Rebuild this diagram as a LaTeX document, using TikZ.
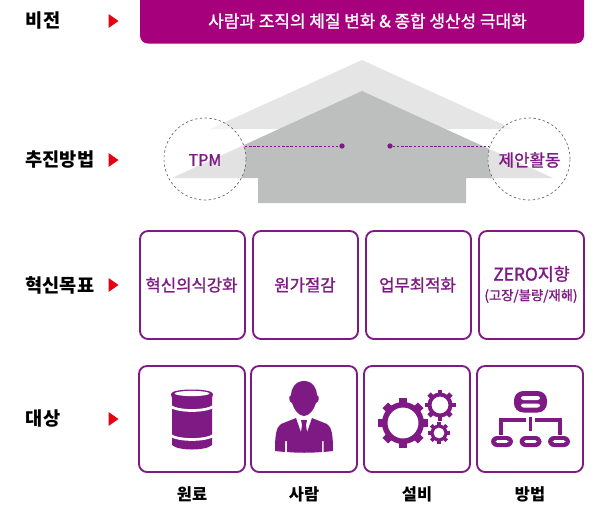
\documentclass[tikz,border=0pt]{standalone}
\usepackage{fontspec}
\setmainfont{Noto Sans CJK KR}
\newfontfamily\medf[FakeBold=1.3]{Noto Sans CJK KR}
\definecolor{barc}{HTML}{A6007C}
\definecolor{purp}{HTML}{7F1A85}
\definecolor{arrowc}{HTML}{E60012}
\definecolor{roofa}{HTML}{E5E5E5}
\definecolor{roofb}{HTML}{BDBFBE}
\tikzset{
  rowlabel/.style={font=\bfseries\fontsize{14}{16}\selectfont,text=black,inner sep=0pt},
  caption/.style={font=\bfseries\fontsize{12.3}{14}\selectfont,text=black,inner sep=0pt},
  boxtext/.style={font=\medf\fontsize{12.5}{14}\selectfont,text=purp,inner sep=0pt,align=center},
  cardbox/.style={draw=purp,line width=1.4pt,rounded corners=6pt,fill=white},
  rowarrow/.style={fill=arrowc,draw=none},
  halo/.style={circle,minimum size=61.5pt,inner sep=0pt,draw=gray!80!black,dashed,line width=.5pt,dash pattern=on 1.8pt off 1.8pt,fill=white,fill opacity=.55,text opacity=1,draw opacity=1},
  dotn/.style={circle,fill=purp,inner sep=0pt,minimum size=4pt},
  link/.style={draw=purp,line width=.7pt,dash pattern=on 1.8pt off 1.3pt},
}
\newcommand{\geargl}[6]{%
  \fill[purp,even odd rule] (#1,#2) circle[radius=#3*0.75pt] (#1,#2) circle[radius=#4*0.75pt];
  \foreach \a in {0,45,...,315}{
    \fill[purp,shift={(#1,#2)},rotate=\a] (-#6,#3-1) -- (#6,#3-1) -- (#6,#5) -- (-#6,#5) -- cycle;
  }
}
\begin{document}
\begin{tikzpicture}[x=0.75pt,y=-0.75pt]
\useasboundingbox (0,0) rectangle (604,511);
\clip (0,0) rectangle (604,511);
% vision bar
\fill[barc,rounded corners=6pt] (140,-12) rectangle (584,43.5);
\node[font=\medf\fontsize{12.7}{14}\selectfont,text=white,inner sep=0pt] (title) at (367.5,21) {사람과 조직의 체질 변화 \& 종합 생산성 극대화};
% row labels
\node[rowlabel] (l1) at (43,21) {비전};
\node[rowlabel] (l2) at (60,160) {추진방법};
\node[rowlabel] (l3) at (60,285) {혁신목표};
\node[rowlabel] (l4) at (43,419) {대상};
\foreach \yy in {21,160,285,419}{
  \fill[rowarrow] (108.5,\yy-7) -- (118.5,\yy) -- (108.5,\yy+7) -- cycle;
}
% roof
\fill[roofa] (362,60) -- (513,129) -- (210,129) -- cycle;
\fill[roofb] (362,91) -- (553,178) -- (466,178) -- (466,203) -- (258,203) -- (258,178) -- (172,178) -- cycle;
\node[halo] (tpmc) at (205,159) {};
\node[halo] (ideac) at (529,159) {};
\node[boxtext,font=\medf\fontsize{12}{14}\selectfont] (tpm) at (205,160) {TPM};
\node[boxtext,font=\medf\fontsize{12.6}{14}\selectfont] (idea) at (529.5,160) {제안활동};
\node[dotn] (d1) at (342,146) {};
\node[dotn] (d2) at (390,146) {};
\coordinate (c1) at (245,146);
\coordinate (c2) at (489,146);
\draw[link] (c1) -- (d1);
\draw[link] (d2) -- (c2);
% goal boxes
\draw[cardbox] (140,231) rectangle (245,339);
\draw[cardbox] (253,231) rectangle (358,339);
\draw[cardbox] (366,231) rectangle (471,339);
\draw[cardbox] (479,231) rectangle (584,339);
\node[boxtext] (g1) at (191.5,285) {혁신의식강화};
\node[boxtext] (g2) at (305,285) {원가절감};
\node[boxtext] (g3) at (417.5,285) {업무최적화};
\node[boxtext,font=\medf\fontsize{13}{15}\selectfont] (g4) at (531.5,274) {ZERO지향};
\node[boxtext,font=\medf\fontsize{10}{12}\selectfont] (g5) at (531,296) {(고장/불량/재해)};
% target boxes
\draw[cardbox] (139,366) rectangle (245,472);
\draw[cardbox] (251,366) rectangle (357,472);
\draw[cardbox] (364,366) rectangle (470,472);
\draw[cardbox] (477,366) rectangle (583,472);
\node[caption] (t1) at (192,494) {원료};
\node[caption] (t2) at (304,494) {사람};
\node[caption] (t3) at (417,494) {설비};
\node[caption] (t4) at (530,494) {방법};
% drum
\fill[purp] (171,394) .. controls (171,388) and (213,388) .. (213,394) .. controls (213,396) and (212,397) .. (212,398) -- (212,445) .. controls (206,451) and (178,451) .. (172,445) -- (172,398) .. controls (172,397) and (171,396) .. (171,394) -- cycle;
\fill[white] (192,393.5) ellipse[x radius=17.5*0.75pt,y radius=2.6*0.75pt];
\draw[white,line width=2pt] (170,406) .. controls (178,412) and (206,412) .. (214,406);
\draw[white,line width=2pt] (170,435) .. controls (178,441) and (206,441) .. (214,435);
% person
\fill[purp] (304,381) .. controls (295,381) and (291,389) .. (291,395) .. controls (288,396) and (289,402) .. (292,403) .. controls (294,410) and (299,416) .. (304,416) .. controls (309,416) and (314,410) .. (316,403) .. controls (319,402) and (320,396) .. (317,395) .. controls (317,389) and (313,381) .. (304,381) -- cycle;
\fill[purp] (296,418) -- (304,441) -- (312,418) -- (327,424) .. controls (332,427) and (333,436) .. (333,451) -- (323.5,452) -- (323.5,441) -- (322,441) -- (322,452) .. controls (310,453) and (298,453) .. (287,452) -- (287,441) -- (285,441) -- (285,452) -- (275,451) .. controls (275,436) and (276,427) .. (281,424) -- cycle;
\fill[purp] (301,420) -- (307,420) -- (306,425) -- (308,439) -- (304,444) -- (300,439) -- (302,425) -- cycle;
% gears
\geargl{403}{423}{21}{15.5}{25}{4}
\geargl{440}{405}{12.5}{8.5}{15.5}{2.4}
\geargl{439}{433}{8.5}{5.5}{10.8}{1.8}
% org chart
\fill[purp,rounded corners=7pt] (514,391) rectangle (547,412.5);
\fill[white,rounded corners=1.8pt] (521,396) rectangle (540,400);
\fill[white,rounded corners=1.8pt] (521,403.5) rectangle (540,407.5);
\draw[purp,line width=2.6pt] (530.5,417) -- (530.5,431);
\draw[purp,line width=2.6pt] (526,420) -- (501,420) -- (501,435);
\draw[purp,line width=2.6pt] (535,420) -- (560,420) -- (560,435);
\foreach \xx in {502,530.5,559}{
  \fill[purp,rounded corners=4.5pt] (\xx-11,436) rectangle (\xx+11,447);
  \fill[white,rounded corners=1.2pt] (\xx-6.5,440.2) rectangle (\xx+6.5,442.8);
}
\end{tikzpicture}
\end{document}
